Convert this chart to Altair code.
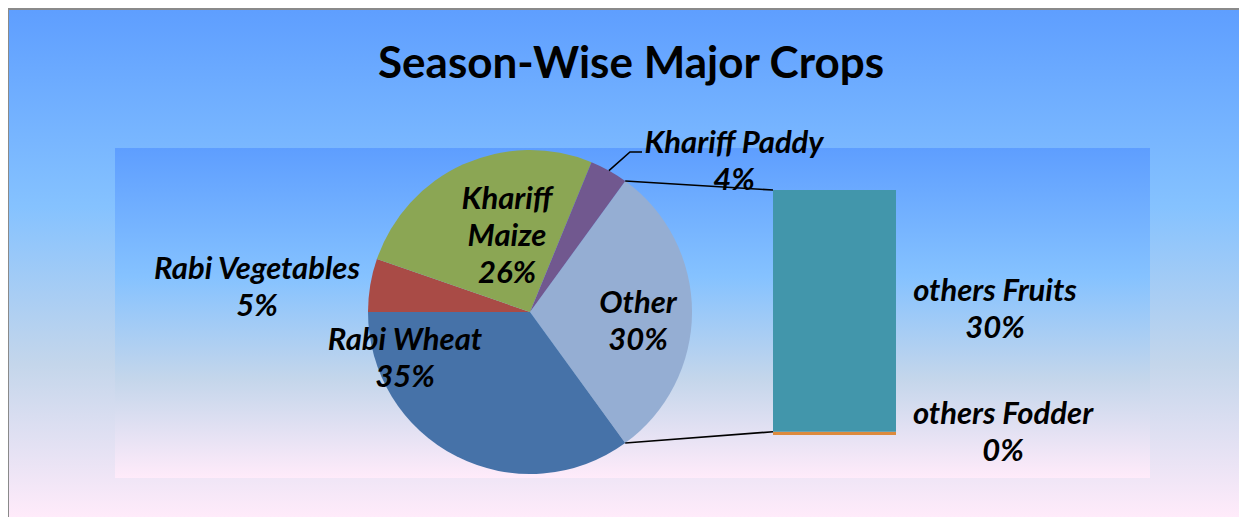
import math
import pandas as pd
import altair as alt

# ---------------- data ----------------
pie_categories = ["Other", "Rabi Wheat", "Rabi Vegetables", "Khariff Maize", "Khariff Paddy"]
pie_values = [30.0, 35.0, 5.3, 25.9, 3.8]
bar_categories = ["others Fodder", "others Fruits"]
bar_values = [0.4, 29.6]
title_text = "Season-Wise Major Crops"

# ---------------- style / layout ----------------
W, H = 1231, 509
pie_colors = ["#95AED3", "#4672A8", "#A94B46", "#8BA654", "#71588F"]
bar_colors = ["#DC8A3D", "#4296AB"]
daybreak = [
    alt.GradientStop(offset=0.0, color="#5E9EFF"),
    alt.GradientStop(offset=0.39, color="#85C2FF"),
    alt.GradientStop(offset=0.70, color="#C4D6EB"),
    alt.GradientStop(offset=1.0, color="#FFEBFA"),
]
grad = alt.LinearGradient(gradient="linear", stops=daybreak, x1=0, x2=0, y1=0, y2=1)

CX, CY, R = 522, 304, 162          # pie centre / radius
BX0, BX1 = 765, 888                # bar left / right
BY_BOTTOM, BY_TOP = 427, 182       # bar scale range
FONT = "Lato"
FS = 31
LH = 37

total = sum(pie_values)
other_val = pie_values[0]
start = math.pi / 2 - math.pi * other_val / total   # Other centred on the right


def polar(angle, r):
    return CX + r * math.sin(angle), CY - r * math.cos(angle)


cum = [0.0]
for v in pie_values:
    cum.append(cum[-1] + v)
ang = [start + 2 * math.pi * c / total for c in cum]

pct = lambda v: f"{round(v / total * 100):d}%"

# ---------------- layers ----------------
one = pd.DataFrame({"k": [0]})

bg = alt.Chart(one).mark_rect(fill=grad).encode(
    x=alt.value(0), x2=alt.value(W), y=alt.value(0), y2=alt.value(H)
)
inner = alt.Chart(one).mark_rect(fill=grad).encode(
    x=alt.value(107), x2=alt.value(1142), y=alt.value(140), y2=alt.value(470)
)
border_l = alt.Chart(one).mark_rule(color="#8A8A8A", strokeWidth=2).encode(
    x=alt.value(0), y=alt.value(1), y2=alt.value(H)
)
border_t = alt.Chart(one).mark_rule(color="#8A8A8A", strokeWidth=2).encode(
    x=alt.value(0), x2=alt.value(W), y=alt.value(1)
)

pie_df = pd.DataFrame({
    "cat": pie_categories,
    "value": pie_values,
    "ord": list(range(len(pie_categories))),
})
pie = alt.Chart(pie_df).mark_arc(radius=R).encode(
    theta=alt.Theta("value:Q", stack=True,
                    scale=alt.Scale(range=[start, start + 2 * math.pi])),
    order=alt.Order("ord:Q"),
    color=alt.Color("cat:N", scale=alt.Scale(domain=pie_categories, range=pie_colors),
                    legend=None),
    x=alt.value(CX), y=alt.value(CY),
)

# bar (stacked)
bar_total = sum(bar_values)
bar_df = pd.DataFrame({
    "bcat": bar_categories,
    "bval": bar_values,
    "bord": list(range(len(bar_categories))),
})
yscale = alt.Scale(domain=[0, bar_total], range=[BY_BOTTOM, BY_TOP])
bar = alt.Chart(bar_df).transform_stack(
    stack="bval", as_=["b0", "b1"], groupby=[], sort=[alt.SortField("bord", order="ascending")]
).mark_rect().encode(
    x=alt.value(BX0), x2=alt.value(BX1),
    y=alt.Y("b0:Q", scale=yscale, axis=None),
    y2="b1:Q",
    color=alt.Color("bcat:N", scale=alt.Scale(domain=bar_categories, range=bar_colors),
                    legend=None),
)

text_props = dict(font=FONT, fontSize=FS, fontStyle="italic", fontWeight="bold",
                  lineBreak="\n", lineHeight=LH, align="center", baseline="middle",
                  color="black")

# bar labels at the middle of each stacked segment
mids, c = [], 0.0
for v in bar_values:
    mids.append(c + v / 2)
    c += v
bar_lab_df = pd.DataFrame({
    "lab": [f"{n}\n{round(v / total * 100):d}%" for n, v in zip(bar_categories, bar_values)],
    "mid": mids,
    "lx": [1003 - 8, 995 - 8],
})
bar_text = alt.Chart(bar_lab_df).mark_text(dy=-LH / 2, **text_props).encode(
    x=alt.X("lx:Q", scale=None, axis=None),
    y=alt.Y("mid:Q", scale=yscale, axis=None),
    text="lab:N",
)

# connector lines (pie "Other" edges -> bar edges)
def bar_y(v):
    return BY_BOTTOM + (BY_TOP - BY_BOTTOM) * v / bar_total

p_top = polar(ang[0], R)
p_bot = polar(ang[1], R)
conn_df = pd.DataFrame({
    "x1": [p_top[0], p_bot[0]],
    "y1": [p_top[1], p_bot[1]],
    "x2": [BX0, BX0],
    "y2": [bar_y(bar_total), bar_y(bar_values[0])],
})
conn = alt.Chart(conn_df).mark_rule(color="black", strokeWidth=1.6).encode(
    x=alt.X("x1:Q", scale=None, axis=None), y=alt.Y("y1:Q", scale=None, axis=None),
    x2="x2:Q", y2="y2:Q",
)

# leader line for Khariff Paddy
pad_mid = (ang[4] + ang[5]) / 2
ps = polar(pad_mid, R)
lead_df = pd.DataFrame({
    "lx": [ps[0], 622, 634],
    "ly": [ps[1], 144, 144],
    "i": [0, 1, 2],
})
lead = alt.Chart(lead_df).mark_line(color="black", strokeWidth=1.6).encode(
    x=alt.X("lx:Q", scale=None, axis=None), y=alt.Y("ly:Q", scale=None, axis=None),
    order="i:Q",
)

# pie labels (block centres, page coordinates minus margin)
label_pos = {
    "Other": (630, 314, "Other\n"),
    "Rabi Wheat": (397, 351, "Rabi Wheat\n"),
    "Rabi Vegetables": (249, 280, "Rabi Vegetables\n"),
    "Khariff Maize": (499, 229, "Khariff\nMaize\n"),
    "Khariff Paddy": (726, 154, "Khariff Paddy\n"),
}
rows = []
for cat_, v in zip(pie_categories, pie_values):
    x, y, t = label_pos[cat_]
    txt = t + pct(v)
    n = txt.count("\n") + 1
    rows.append({"t": txt, "px": x, "py": y - (n - 1) * LH / 2})
pie_lab_df = pd.DataFrame(rows)
pie_text = alt.Chart(pie_lab_df).mark_text(**text_props).encode(
    x=alt.X("px:Q", scale=None, axis=None),
    y=alt.Y("py:Q", scale=None, axis=None),
    text="t:N",
)

title = alt.Chart(pd.DataFrame({"t": [title_text]})).mark_text(
    font=FONT, fontSize=44, fontWeight="bold", align="center", baseline="alphabetic",
    color="black",
).encode(x=alt.value(623), y=alt.value(70), text="t:N")

chart = alt.layer(
    bg, inner, border_l, border_t, pie, conn, lead, bar, bar_text, pie_text, title
).resolve_scale(
    x="independent", y="independent", color="independent"
).properties(
    width=W, height=H, padding=0, autosize=alt.AutoSizeParams(type="none")
).configure_view(stroke=None)

chart.save("out.html", embed_options={"renderer": "svg", "actions": False})
